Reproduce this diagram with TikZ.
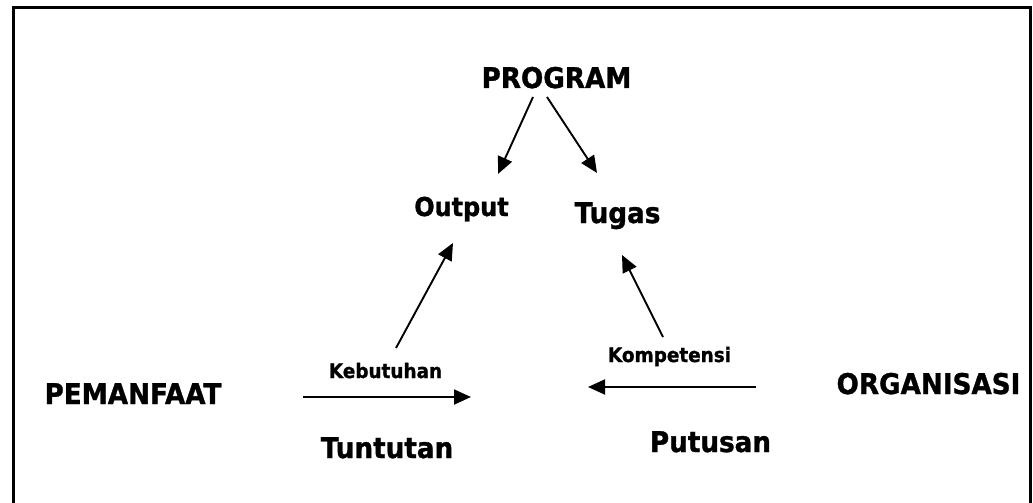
\documentclass[tikz,border=0pt]{standalone}
\usepackage{graphicx}
\usepackage{fontspec}
\setmainfont{DejaVu Sans}[BoldFeatures={FakeBold=1.2}]
\usetikzlibrary{arrows.meta}
\newcommand\sqz[1]{\scalebox{0.92}[1]{#1}}
\begin{document}
\begin{tikzpicture}[x=1pt,y=-1pt,
  big/.style={font=\bfseries\fontsize{28.5}{32}\selectfont, anchor=base, inner sep=0pt},
  mid/.style={font=\bfseries\fontsize{26}{30}\selectfont, anchor=base, inner sep=0pt},
  small/.style={font=\bfseries\fontsize{20}{24}\selectfont, anchor=base, inner sep=0pt},
  conn/.style={line width=1.9pt, -{Triangle[length=17pt,width=15pt]}}]
\useasboundingbox (0,0) rectangle (1033,503);
\draw[line width=3pt] (13,510) -- (13,8) -- (1030,8) -- (1030,510);
\node[big] (program) at (556.5,88) {\sqz{PROGRAM}};
\node[mid] (output) at (461.5,216) {\sqz{Output}};
\node[big] (tugas) at (617.5,223) {\sqz{Tugas}};
\node[big] (pemanfaat) at (133,404) {\sqz{PEMANFAAT}};
\node[big] (organisasi) at (928.5,394) {\sqz{ORGANISASI}};
\node[big] (tuntutan) at (387,458) {\sqz{Tuntutan}};
\node[big] (putusan) at (710.5,452) {\sqz{Putusan}};
\node[small] (kebutuhan) at (385.5,378) {\sqz{Kebutuhan}};
\node[small] (kompetensi) at (669.5,362) {\sqz{Kompetensi}};
\coordinate (p1) at (533,97);
\coordinate (o1) at (498,174);
\coordinate (p2) at (547,97);
\coordinate (t1) at (597,173);
\coordinate (k1) at (396,348);
\coordinate (o2) at (453,243);
\coordinate (k2) at (303,397);
\coordinate (tt) at (471,397);
\coordinate (c1) at (663,337);
\coordinate (t2) at (622,255);
\coordinate (c2) at (756,387);
\coordinate (pp) at (588,387);
\draw[conn] (p1) -- (o1);
\draw[conn] (p2) -- (t1);
\draw[conn] (k1) -- (o2);
\draw[conn] (k2) -- (tt);
\draw[conn] (c1) -- (t2);
\draw[conn] (c2) -- (pp);
\end{tikzpicture}
\end{document}
